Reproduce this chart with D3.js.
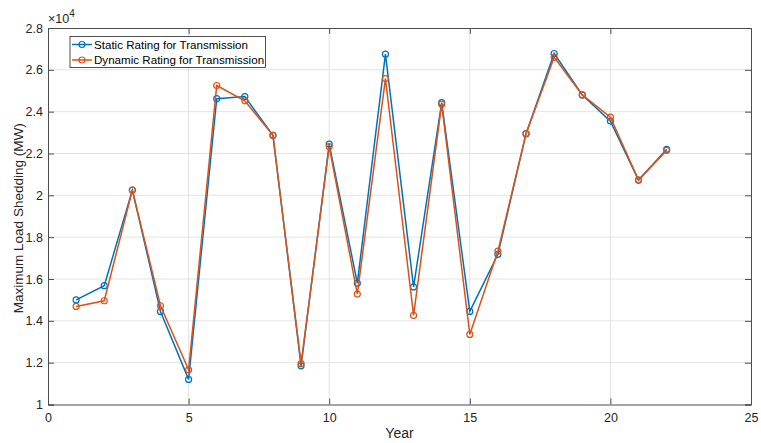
<!DOCTYPE html>
<html><head><meta charset="utf-8">
<script src="https://cdn.jsdelivr.net/npm/d3@7"></script>
<style>body{margin:0;background:#fff;font-family:Helvetica,Arial,"Liberation Sans",sans-serif;}</style>
</head><body><svg id="c" width="761" height="443"></svg>
<script>
const years = [1,2,3,4,5,6,7,8,9,10,11,12,13,14,15,16,17,18,19,20,21,22];
const staticRating = [1.500,1.568,2.025,1.445,1.120,2.462,2.472,2.287,1.185,2.245,1.580,2.675,1.562,2.443,1.445,1.718,2.295,2.678,2.480,2.355,2.073,2.220];
const dynamicRating = [1.469,1.496,2.025,1.472,1.166,2.525,2.452,2.287,1.195,2.233,1.528,2.558,1.426,2.436,1.335,1.733,2.295,2.660,2.480,2.374,2.073,2.215];
const xTicks = [0,5,10,15,20,25];
const yTicks = [1,1.2,1.4,1.6,1.8,2,2.2,2.4,2.6,2.8];
const seriesNames = ["Static Rating for Transmission","Dynamic Rating for Transmission"];
const colors = ["#0072BD","#D95319"];

const svg = d3.select("#c");
const L=48, R=751, T=28, B=404.5;
const x = d3.scaleLinear().domain([0,25]).range([L,R]);
const y = d3.scaleLinear().domain([1,2.8]).range([B,T]);

// grid
svg.append("g").selectAll("line").data(xTicks.slice(1,-1)).join("line")
  .attr("x1",d=>x(d)).attr("x2",d=>x(d)).attr("y1",T).attr("y2",B)
  .attr("stroke","#e3e3e3").attr("stroke-width",1);
svg.append("g").selectAll("line").data(yTicks.slice(1,-1)).join("line")
  .attr("y1",d=>y(d)).attr("y2",d=>y(d)).attr("x1",L).attr("x2",R)
  .attr("stroke","#e3e3e3").attr("stroke-width",1);

// axes
const fmt = d=>d3.format("~g")(d);
const gx = svg.append("g").attr("transform",`translate(0,${B})`)
  .call(d3.axisBottom(x).tickValues(xTicks).tickSize(-6).tickPadding(9).tickFormat(fmt));
const gy = svg.append("g").attr("transform",`translate(${L},0)`)
  .call(d3.axisLeft(y).tickValues(yTicks).tickSize(-6).tickPadding(5).tickFormat(fmt));
const gx2 = svg.append("g").attr("transform",`translate(0,${T})`)
  .call(d3.axisTop(x).tickValues(xTicks).tickSize(-6).tickFormat(""));
const gy2 = svg.append("g").attr("transform",`translate(${R},0)`)
  .call(d3.axisRight(y).tickValues(yTicks).tickSize(-6).tickFormat(""));
[gx,gy,gx2,gy2].forEach(g=>{
  g.selectAll("path,line").attr("stroke","#4d4d4d").attr("stroke-width",1);
  g.selectAll("text").attr("fill","#262626").style("font-size","12.5px").style("font-family","Helvetica,Arial,'Liberation Sans',sans-serif");
});

// exponent label
const ex = svg.append("text").attr("x",L).attr("y",23).attr("fill","#262626")
  .style("font-size","12.5px");
ex.append("tspan").text("\u00d710");
ex.append("tspan").attr("dy",-6).style("font-size","10px").text("4");

// axis labels
svg.append("text").attr("x",(L+R)/2).attr("y",438).attr("text-anchor","middle")
  .attr("fill","#262626").style("font-size","14px").text("Year");
svg.append("text").attr("transform",`translate(18,${(T+B)/2 + 2}) rotate(-90)`)
  .attr("text-anchor","middle").attr("dominant-baseline","central").attr("fill","#262626").style("font-size","13.5px")
  .text("Maximum Load Shedding (MW)");

// series
const data = [staticRating, dynamicRating];
const line = d3.line().x((d,i)=>x(years[i])).y(d=>y(d));
data.forEach((s,k)=>{
  svg.append("path").datum(s).attr("d",line).attr("fill","none")
    .attr("stroke",colors[k]).attr("stroke-width",1.5);
  svg.append("g").selectAll("circle").data(s).join("circle")
    .attr("cx",(d,i)=>x(years[i])).attr("cy",d=>y(d)).attr("r",3)
    .attr("fill","none").attr("stroke",colors[k]).attr("stroke-width",1.2);
});

// legend
const lg = svg.append("g");
lg.append("rect").attr("x",70).attr("y",36.5).attr("width",195.5).attr("height",31)
  .attr("fill","#fff").attr("stroke","#262626").attr("stroke-width",0.8);
seriesNames.forEach((n,k)=>{
  const yy = 44.5 + k*15.5;
  lg.append("line").attr("x1",72).attr("x2",92).attr("y1",yy).attr("y2",yy)
    .attr("stroke",colors[k]).attr("stroke-width",1.5);
  lg.append("circle").attr("cx",82).attr("cy",yy).attr("r",3).attr("fill","none")
    .attr("stroke",colors[k]).attr("stroke-width",1.2);
  lg.append("text").attr("x",94).attr("y",yy+4).attr("fill","#000")
    .style("font-size","11.6px").text(n);
});
</script></body></html>
